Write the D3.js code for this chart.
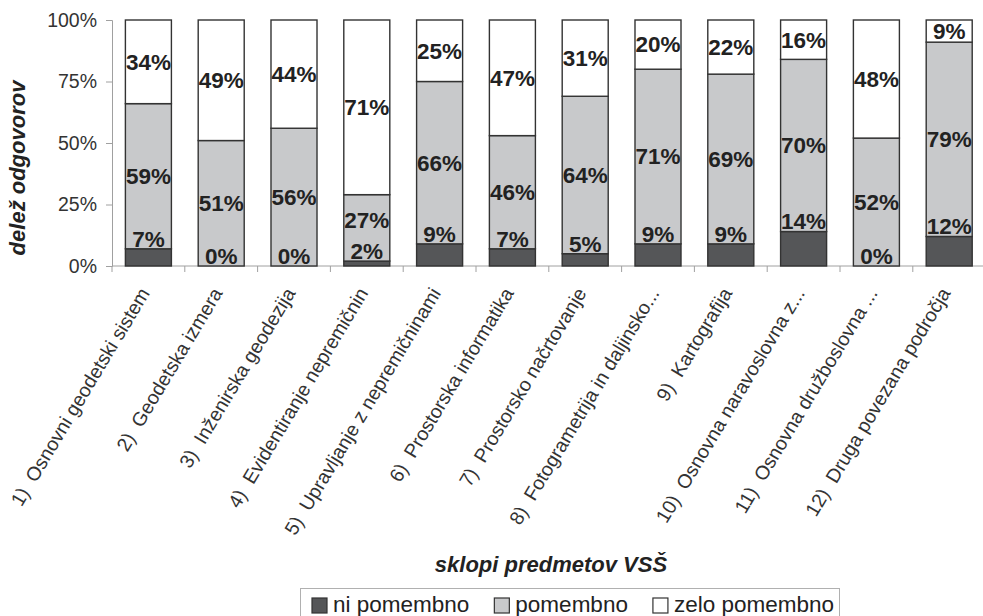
<!DOCTYPE html>
<html><head><meta charset="utf-8">
<script src="https://cdn.jsdelivr.net/npm/d3@7"></script>
<style>
html,body{margin:0;padding:0;background:#fff;}
svg{display:block;font-family:"Liberation Sans",Arial,sans-serif;}
.xl{white-space:pre;}
</style></head>
<body>
<svg id="chart" width="983" height="616"></svg>
<script>
const categories = [
  "1)  Osnovni geodetski sistem",
  "2)  Geodetska izmera",
  "3)  Inženirska geodezija",
  "4)  Evidentiranje nepremičnin",
  "5)  Upravljanje z nepremičninami",
  "6)  Prostorska informatika",
  "7)  Prostorsko načrtovanje",
  "8)  Fotogrametrija in daljinsko...",
  "9)  Kartografija",
  "10)  Osnovna naravoslovna z...",
  "11)  Osnovna družboslovna ...",
  "12)  Druga povezana področja"
];
const niPomembno   = [7, 0, 0, 2, 9, 7, 5, 9, 9, 14, 0, 12];
const pomembno     = [59, 51, 56, 27, 66, 46, 64, 71, 69, 70, 52, 79];
const zeloPomembno = [34, 49, 44, 71, 25, 47, 31, 20, 22, 16, 48, 9];
const seriesNames = ["ni pomembno", "pomembno", "zelo pomembno"];
const yTicks = [0, 25, 50, 75, 100];
const yTitle = "delež odgovorov";
const xTitle = "sklopi predmetov VSŠ";

(function () {
const colors = ["#555658", "#c8c9cb", "#ffffff"];
const svg = d3.select("#chart");
const pLeft = 112, pTop = 20, pBottom = 266, step = 72.8;
const pRight = pLeft + step * categories.length;

const x = d3.scaleBand().domain(categories).range([pLeft, pRight])
  .paddingInner(0.368).paddingOuter(0.184);
const y = d3.scaleLinear().domain([0, 100]).range([pBottom, pTop]);

const data = categories.map((c, i) => ({cat: c, s0: niPomembno[i], s1: pomembno[i], s2: zeloPomembno[i]}));
const layers = d3.stack().keys(["s0", "s1", "s2"])(data);

// y axis
const yAxis = svg.append("g").attr("transform", `translate(${pLeft},0)`)
  .call(d3.axisLeft(y).tickValues(yTicks).tickFormat(d => d + "%").tickSize(6).tickPadding(9));
yAxis.select(".domain").attr("stroke", "#a0a0a0");
yAxis.selectAll(".tick line").attr("stroke", "#a0a0a0");
yAxis.selectAll("text").attr("font-size", 19.5).attr("fill", "#333").attr("font-family", "Liberation Sans, Arial, sans-serif");

// x axis baseline with ticks at band boundaries
const xg = svg.append("g");
xg.append("line").attr("x1", pLeft).attr("x2", 983).attr("y1", pBottom).attr("y2", pBottom).attr("stroke", "#a0a0a0");
xg.selectAll("line.tk").data(d3.range(categories.length + 1)).join("line")
  .attr("class", "tk")
  .attr("x1", i => pLeft + i * x.step()).attr("x2", i => pLeft + i * x.step())
  .attr("y1", pBottom).attr("y2", pBottom + 6).attr("stroke", "#a0a0a0");

// bars
layers.forEach((layer, li) => {
  svg.append("g").selectAll("rect").data(layer).join("rect")
    .attr("x", d => x(d.data.cat))
    .attr("width", x.bandwidth())
    .attr("y", d => y(d[1]))
    .attr("height", d => y(d[0]) - y(d[1]))
    .attr("fill", colors[li])
    .attr("stroke", "#333")
    .attr("stroke-width", 1.4);
});

// value labels
const bottomY = layers[0].map(d => y(d[1]) - 10);
layers.forEach((layer, li) => {
  svg.append("g").selectAll("text").data(layer).join("text")
    .attr("x", d => x(d.data.cat) + x.bandwidth() / 2)
    .attr("y", (d, i) => {
      if (li === 0) return bottomY[i];
      const c = y((d[0] + d[1]) / 2);
      return li === 1 ? Math.min(c, bottomY[i] - 31) : c;
    })
    .attr("dy", "0.35em")
    .attr("text-anchor", "middle")
    .attr("font-size", 22.5)
    .attr("font-weight", "bold")
    .attr("fill", "#222")
    .text(d => (d[1] - d[0]) + "%");
});

// x labels
svg.append("g").selectAll("text").data(categories).join("text")
  .attr("class", "xl")
  .attr("transform", d => `translate(${x(d) + x.bandwidth() / 2 + 2},${pBottom + 27}) rotate(-59)`)
  .attr("text-anchor", "end")
  .attr("font-size", 19.5)
  .attr("fill", "#333")
  .text(d => d);

// titles
svg.append("text").attr("transform", "translate(25,168) rotate(-90)")
  .attr("text-anchor", "middle").attr("font-size", 22).attr("font-weight", "bold")
  .attr("font-style", "italic").attr("fill", "#222").text(yTitle);
svg.append("text").attr("x", 551).attr("y", 572)
  .attr("text-anchor", "middle").attr("font-size", 22).attr("font-weight", "bold")
  .attr("font-style", "italic").attr("fill", "#222").text(xTitle);

// legend
const lg = svg.append("g");
lg.append("rect").attr("x", 300.5).attr("y", 588.5).attr("width", 539).attr("height", 40)
  .attr("fill", "#fff").attr("stroke", "#b0b0b0");
let lx = 312;
seriesNames.forEach((n, i) => {
  lg.append("rect").attr("x", lx).attr("y", 598).attr("width", 15).attr("height", 15)
    .attr("fill", colors[i]).attr("stroke", "#333").attr("stroke-width", 1.2);
  const t = lg.append("text").attr("x", lx + 21).attr("y", 612).attr("font-size", 22.5)
    .attr("fill", "#222").text(n);
  lx += 21 + t.node().getComputedTextLength() + 25;
});
})();
</script>
</body></html>
